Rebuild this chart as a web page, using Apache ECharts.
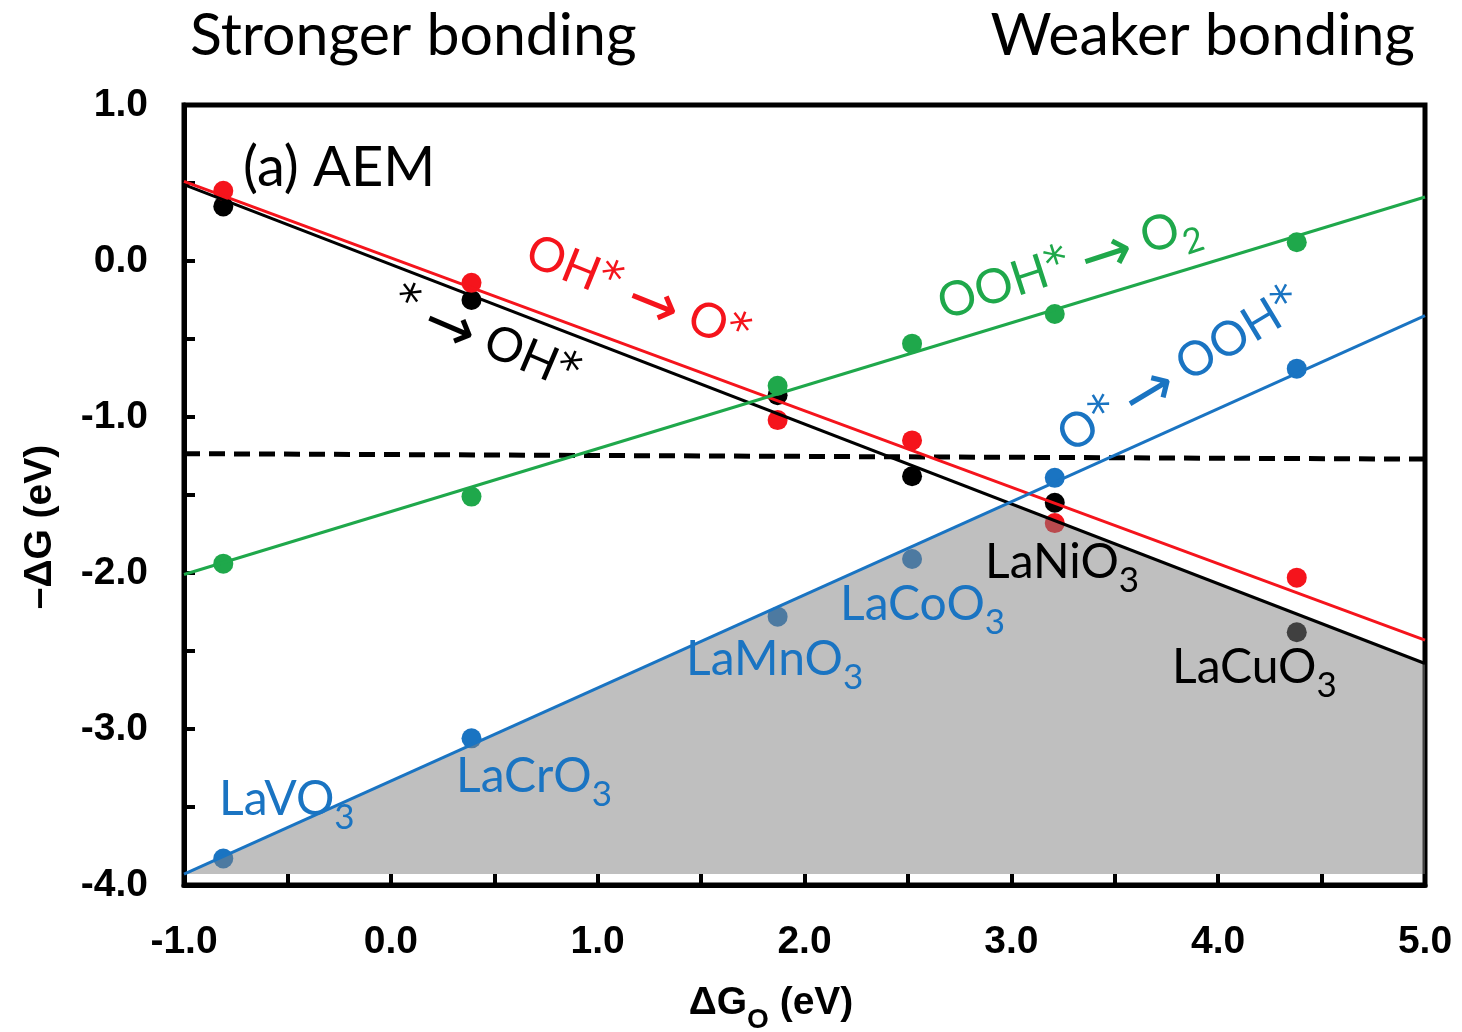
<!DOCTYPE html>
<html>
<head>
<meta charset="utf-8">
<script src="https://cdn.jsdelivr.net/npm/echarts@6/dist/echarts.min.js"></script>
<style>
  html, body { margin: 0; padding: 0; background: #fff; }
  #chart { width: 1462px; height: 1032px; }
</style>
</head>
<body>
<div id="chart"></div>
<script>
// perovskites and their ΔG_O (x)
const materials = ['LaVO3', 'LaCrO3', 'LaMnO3', 'LaCoO3', 'LaNiO3', 'LaCuO3'];
const dGO = [-0.81, 0.39, 1.87, 2.52, 3.21, 4.38];

// -ΔG of each AEM step
const starToOH = [0.35, -0.25, -0.86, -1.38, -1.55, -2.38];
const ohToO = [0.45, -0.14, -1.02, -1.15, -1.68, -2.03];
const oToOOH = [-3.83, -3.06, -2.28, -1.91, -1.39, -0.69];
const oohToO2 = [-1.94, -1.51, -0.80, -0.53, -0.34, 0.12];

// fitted lines: value at x = -1 and x = 5
const fitX = [-1, 5];
const starToOHFit = [0.49, -2.58];
const ohToOFit = [0.51, -2.43];
const oToOOHFit = [-3.93, -0.35];
const oohToO2Fit = [-2.01, 0.41];
const eqLine = [-1.235, -1.27];

const RED = '#f5141c';
const GREEN = '#1fa84b';
const BLUE = '#1a74c2';
const BLACK = '#000000';
const TXT = 'Lato, "Open Sans", sans-serif';
const SYM = '"DejaVu Sans", sans-serif';
const AX = '"Liberation Sans", Arial, sans-serif';

function pairs(xs, ys) {
  return xs.map((x, i) => [x, ys[i]]);
}

// where the two bounding fits cross (top corner of the grey region)
function crossing(a, b) {
  const sa = (a[1] - a[0]) / (fitX[1] - fitX[0]);
  const sb = (b[1] - b[0]) / (fitX[1] - fitX[0]);
  const t = (b[0] - a[0]) / (sa - sb);
  return [fitX[0] + t, a[0] + sa * t];
}
const peak = crossing(oToOOHFit, starToOHFit);
const fillPts = [
  [fitX[0], oToOOHFit[0]],
  peak,
  [fitX[1], starToOHFit[1]],
  [fitX[1], oToOOHFit[0]]
];

function dots(name, ys, color) {
  return {
    name: name, type: 'scatter', data: pairs(dGO, ys),
    symbolSize: 20, itemStyle: { color: color, opacity: 1 }, z: 1, silent: true
  };
}
function fit(name, ys, color) {
  return {
    name: name, type: 'line', data: pairs(fitX, ys), showSymbol: false,
    lineStyle: { color: color, width: 3 }, z: 4, silent: true
  };
}

const tickFmt = (v) => (Math.abs(v - Math.round(v)) < 1e-9 ? v.toFixed(1) : '');

function richStyles(color) {
  return {
    m: { fontFamily: TXT, fontSize: 48, lineHeight: 52, verticalAlign: 'top', fill: color },
    a: { fontFamily: SYM, fontSize: 46, lineHeight: 52, verticalAlign: 'top', fill: color },
    r: { fontFamily: SYM, fontSize: 62, lineHeight: 58, verticalAlign: 'top', fill: color },
    s: { fontFamily: TXT, fontSize: 35, lineHeight: 35, padding: [24, 0, 0, 0], verticalAlign: 'top', fill: color }
  };
}

function label(text, x, y, color) {
  return {
    type: 'text', x: x, y: y, z: 10,
    style: {
      text: '{m|' + text + '}{s|3}',
      fill: color, align: 'left', verticalAlign: 'top',
      rich: richStyles(color)
    }
  };
}

function slanted(text, x, y, deg, color) {
  return {
    type: 'text', x: x, y: y, rotation: deg * Math.PI / 180, z: 10,
    style: {
      text: text, fill: color, align: 'center', verticalAlign: 'middle',
      rich: richStyles(color)
    }
  };
}

const chart = echarts.init(document.getElementById('chart'));

const option = {
  animation: false,
  backgroundColor: '#fff',
  grid: {
    left: 184, right: 37, top: 105, bottom: 147,
    show: true, borderColor: '#000', borderWidth: 5, backgroundColor: 'transparent'
  },
  xAxis: {
    type: 'value', min: -1, max: 5, interval: 0.5,
    axisLine: { show: true, onZero: false, lineStyle: { color: '#000', width: 5 } },
    axisTick: { show: true, inside: true, length: 11, lineStyle: { color: '#000', width: 4 } },
    axisLabel: { formatter: tickFmt, fontFamily: AX, fontWeight: 'bold', fontSize: 39, color: '#000', margin: 38 },
    splitLine: { show: false }
  },
  yAxis: {
    type: 'value', min: -4, max: 1, interval: 0.5,
    axisLine: { show: true, onZero: false, lineStyle: { color: '#000', width: 5 } },
    axisTick: { show: true, inside: true, length: 11, lineStyle: { color: '#000', width: 4 } },
    axisLabel: { formatter: tickFmt, fontFamily: AX, fontWeight: 'bold', fontSize: 39, color: '#000', margin: 36 },
    splitLine: { show: false }
  },
  series: [
    dots('* → OH*', starToOH, BLACK),
    dots('OH* → O*', ohToO, RED),
    dots('O* → OOH*', oToOOH, BLUE),
    dots('OOH* → O2', oohToO2, GREEN),
    {
      name: 'region', type: 'custom', z: 2, silent: true,
      data: [[0]],
      renderItem: function (params, api) {
        return {
          type: 'polygon',
          shape: { points: fillPts.map((p) => api.coord(p)) },
          style: { fill: 'rgba(128,128,128,0.5)' }
        };
      }
    },
    {
      name: '1.23 V', type: 'line', data: pairs(fitX, eqLine), showSymbol: false,
      lineStyle: { color: '#000', width: 5, type: [16, 9] }, z: 3, silent: true
    },
    fit('* → OH* fit', starToOHFit, BLACK),
    fit('OH* → O* fit', ohToOFit, RED),
    fit('O* → OOH* fit', oToOOHFit, BLUE),
    fit('OOH* → O2 fit', oohToO2Fit, GREEN)
  ],
  graphic: [
    { type: 'text', x: 190, y: 36, style: { text: 'Stronger bonding', fontFamily: TXT, fontSize: 59, fill: '#000', align: 'left', verticalAlign: 'middle' } },
    { type: 'text', x: 1415, y: 36, style: { text: 'Weaker bonding', fontFamily: TXT, fontSize: 59, fill: '#000', align: 'right', verticalAlign: 'middle' } },
    { type: 'text', x: 243, y: 168, z: 10, style: { text: '(a) AEM', fontFamily: TXT, fontSize: 56, fill: '#000', align: 'left', verticalAlign: 'middle' } },
    slanted('{a|*}{m| }{r|→}{m| OH}{a|*}', 484, 343, -23, BLACK),
    slanted('{m|OH}{a|*}{m| }{r|→}{m| O}{a|*}', 636, 298, -22, RED),
    slanted('{m|OOH}{a|*}{m| }{r|→}{m| O}{s|2}', 1070, 268, 18, GREEN),
    slanted('{m|O}{a|*}{m| }{r|→}{m| OOH}{a|*}', 1182, 374, 31, BLUE),
    label('LaNiO', 985, 539, BLACK),
    label('LaCoO', 840, 581, BLUE),
    label('LaMnO', 686, 636, BLUE),
    label('LaCuO', 1172, 644, BLACK),
    label('LaCrO', 456, 753, BLUE),
    label('LaVO', 219, 776, BLUE),
    {
      type: 'text', x: 771, y: 1005,
      style: {
        text: '{m|ΔG}{s|O}{m| (eV)}', align: 'center', verticalAlign: 'middle', fill: '#000',
        rich: {
          m: { fontFamily: AX, fontWeight: 'bold', fontSize: 39, lineHeight: 42, verticalAlign: 'top' },
          s: { fontFamily: AX, fontWeight: 'bold', fontSize: 28, lineHeight: 28, padding: [22, 0, 0, 0], verticalAlign: 'top' }
        }
      }
    },
    {
      type: 'text', x: 40, y: 527, rotation: Math.PI / 2,
      style: { text: '–ΔG (eV)', fontFamily: AX, fontWeight: 'bold', fontSize: 39, fill: '#000', align: 'center', verticalAlign: 'middle' }
    }
  ]
};

chart.setOption(option);
</script>
</body>
</html>
